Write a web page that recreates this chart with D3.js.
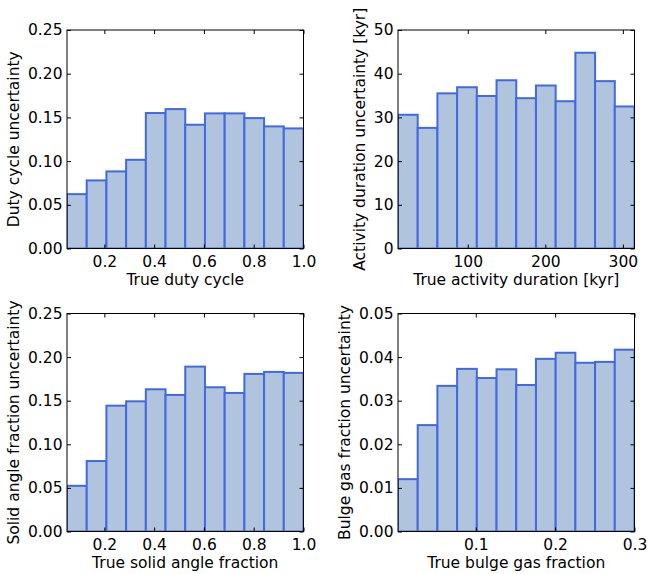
<!DOCTYPE html>
<html>
<head>
<meta charset="utf-8">
<script src="https://cdn.jsdelivr.net/npm/d3@7"></script>
<style>
  body { margin: 0; background: #fff; }
  text { font-family: "DejaVu Sans", sans-serif; }
</style>
</head>
<body>
<svg id="chart" width="648" height="574"></svg>
<script>
// Uncertainty per bin of the true parameter value (12 bins per panel)

const dutyRange = [0.05, 1.0]
const dutyVals = [0.0622, 0.0779, 0.0882, 0.1015, 0.1550, 0.1595, 0.1416, 0.1546, 0.1546, 0.1492, 0.1397, 0.1374]
const dutyXTicks = [0.2, 0.4, 0.6, 0.8, 1.0]
const dutyYTicks = [0, 0.05, 0.10, 0.15, 0.20, 0.25]

const durRange = [10, 315]
const durVals = [30.6, 27.6, 35.5, 36.9, 34.9, 38.5, 34.4, 37.3, 33.7, 44.8, 38.3, 32.5]
const durXTicks = [100, 200, 300]
const durYTicks = [0, 10, 20, 30, 40, 50]

const solidRange = [0.05, 1.0]
const solidVals = [0.0524, 0.0808, 0.1443, 0.1493, 0.1631, 0.1566, 0.1891, 0.1654, 0.1589, 0.1807, 0.1830, 0.1819]
const solidXTicks = [0.2, 0.4, 0.6, 0.8, 1.0]
const solidYTicks = [0, 0.05, 0.10, 0.15, 0.20, 0.25]

const bulgeRange = [0.002, 0.3]
const bulgeVals = [0.0120, 0.0244, 0.0334, 0.0373, 0.0352, 0.0372, 0.0336, 0.0396, 0.0410, 0.0387, 0.0389, 0.0417]
const bulgeXTicks = [0.1, 0.2, 0.3]
const bulgeYTicks = [0, 0.01, 0.02, 0.03, 0.04, 0.05]

const FONT = 15.5
const TICK = 4

const panels = [
  { vals: dutyVals, range: dutyRange, xt: dutyXTicks, yt: dutyYTicks, xf: ".1f", yf: ".2f",
    xlab: "True duty cycle", ylab: "Duty cycle uncertainty", box: [67, 30, 303.5, 248.5] },
  { vals: durVals, range: durRange, xt: durXTicks, yt: durYTicks, xf: "d", yf: "d",
    xlab: "True activity duration [kyr]", ylab: "Activity duration uncertainty [kyr]", box: [398, 30, 634.5, 248.5] },
  { vals: solidVals, range: solidRange, xt: solidXTicks, yt: solidYTicks, xf: ".1f", yf: ".2f",
    xlab: "True solid angle fraction", ylab: "Solid angle fraction uncertainty", box: [67, 313.5, 303.5, 531.5] },
  { vals: bulgeVals, range: bulgeRange, xt: bulgeXTicks, yt: bulgeYTicks, xf: ".1f", yf: ".2f",
    xlab: "True bulge gas fraction", ylab: "Bulge gas fraction uncertainty", box: [398, 313.5, 634.5, 531.5] }
]

const svg = d3.select("#chart")

function styleAxis(g) {
  g.attr("font-size", FONT).attr("font-family", "\"DejaVu Sans\", sans-serif")
  g.select(".domain").remove()
  g.selectAll(".tick line").attr("stroke", "#000").attr("stroke-width", 1)
  g.selectAll(".tick text").attr("fill", "#000")
}

panels.forEach((p, i) => {
  const [x0, y0, x1, y1] = p.box
  const w = x1 - x0, h = y1 - y0
  const g = svg.append("g").attr("transform", `translate(${x0},${y0})`)

  const x = d3.scaleLinear().domain(p.range).range([0, w])
  const ymax = p.yt[p.yt.length - 1]
  const y = d3.scaleLinear().domain([0, ymax]).range([h, 0])

  const n = p.vals.length
  const step = (p.range[1] - p.range[0]) / n
  const bins = p.vals.map((v, k) => ({ a: p.range[0] + k * step, b: p.range[0] + (k + 1) * step, v: v }))

  g.append("clipPath").attr("id", "clip" + i)
    .append("rect").attr("width", w).attr("height", h)

  g.append("g").attr("clip-path", `url(#clip${i})`)
    .selectAll("rect").data(bins).join("rect")
    .attr("x", d => x(d.a))
    .attr("y", d => y(d.v))
    .attr("width", d => x(d.b) - x(d.a))
    .attr("height", d => y(0) - y(d.v))
    .attr("fill", "#b0c4de")
    .attr("stroke", "#4169e1")
    .attr("stroke-width", 2)

  // axes, ticks pointing inward on all four sides
  const bottom = g.append("g").attr("transform", `translate(0,${h})`)
    .call(d3.axisBottom(x).tickValues(p.xt).tickFormat(d3.format(p.xf))
      .tickSizeInner(-TICK).tickSizeOuter(0).tickPadding(7))
  styleAxis(bottom)

  const left = g.append("g")
    .call(d3.axisLeft(y).tickValues(p.yt).tickFormat(d3.format(p.yf))
      .tickSizeInner(-TICK).tickSizeOuter(0).tickPadding(4.5))
  styleAxis(left)

  const top = g.append("g")
    .call(d3.axisTop(x).tickValues(p.xt).tickFormat("").tickSizeInner(-TICK).tickSizeOuter(0))
  styleAxis(top)

  const right = g.append("g").attr("transform", `translate(${w},0)`)
    .call(d3.axisRight(y).tickValues(p.yt).tickFormat("").tickSizeInner(-TICK).tickSizeOuter(0))
  styleAxis(right)

  g.append("rect").attr("width", w).attr("height", h)
    .attr("fill", "none").attr("stroke", "#000").attr("stroke-width", 1)

  g.append("text")
    .attr("x", w / 2).attr("y", h + 36)
    .attr("text-anchor", "middle").attr("font-size", FONT)
    .text(p.xlab)

  let maxW = 0
  left.selectAll(".tick text").each(function () {
    maxW = Math.max(maxW, this.getComputedTextLength())
  })
  const lx = -(maxW + 4.5 + 5.5 + 3.7)
  g.append("text")
    .attr("transform", `translate(${lx},${h / 2}) rotate(-90)`)
    .attr("text-anchor", "middle").attr("font-size", FONT)
    .text(p.ylab)
})
</script>
</body>
</html>
